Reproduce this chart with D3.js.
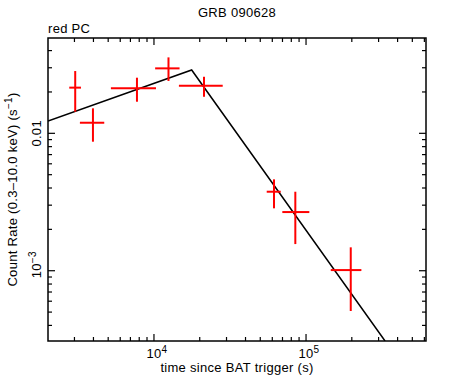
<!DOCTYPE html>
<html>
<head>
<meta charset="utf-8">
<script src="https://cdn.jsdelivr.net/npm/d3@7"></script>
<style>
  body { margin: 0; background: #fff; }
  text { font-family: "Liberation Sans", Arial, sans-serif; fill: #000; letter-spacing: 0.3px; }
</style>
</head>
<body>
<script>
// light curve bins: time (s), rate (s^-1) with errors
var times  = [3035, 3970, 7730, 12460, 21330, 61550, 85030, 196800];
var tLo    = [2773, 3258, 5210, 10180, 14590, 55130, 69830, 145400];
var tHi    = [3311, 4711, 10310, 14730, 28320, 68170, 105100, 231200];
var rates  = [0.0215, 0.01194, 0.02126, 0.0297, 0.0222, 0.003758, 0.002673, 0.001011];
var rLo    = [0.01435, 0.00869, 0.01698, 0.02405, 0.01845, 0.002845, 0.001563, 0.000509];
var rHi    = [0.0284, 0.0152, 0.0254, 0.0357, 0.0258, 0.004625, 0.003758, 0.00148];

// broken power law model
var modelT = [2010, 17700, 330800];
var modelR = [0.0123, 0.0289, 0.000308];

var xDomain = [2010, 615000];
var yDomain = [0.000308, 0.0494];
var xMajor = [1e4, 1e5];
var xMajorLabels = ["4", "5"];

var width = 474, height = 379,
    margin = {left: 48, right: 48, top: 38, bottom: 38},
    fs = 13;

var svg = d3.select("body").append("svg")
    .attr("width", width)
    .attr("height", height);

var x = d3.scaleLog().domain(xDomain).range([margin.left, width - margin.right]);
var y = d3.scaleLog().domain(yDomain).range([height - margin.bottom, margin.top]);

var x0 = x.range()[0], x1 = x.range()[1], y0 = y.range()[0], y1 = y.range()[1];

svg.append("clipPath").attr("id", "clip")
  .append("rect").attr("x", x0).attr("y", y1).attr("width", x1 - x0).attr("height", y0 - y1);

// minor/major tick values
function logTicks(domain) {
  var out = [];
  for (var e = -5; e <= 7; e++) {
    for (var m = 1; m < 10; m++) {
      var v = m * Math.pow(10, e);
      if (v >= domain[0] && v <= domain[1]) out.push({v: v, major: m === 1});
    }
  }
  return out;
}

var xt = logTicks(xDomain), yt = logTicks(yDomain);
var tickG = svg.append("g").attr("stroke", "#000").attr("stroke-width", 1.2);

xt.forEach(function(d) {
  var len = d.major ? 7 : 4;
  tickG.append("line").attr("x1", x(d.v)).attr("x2", x(d.v)).attr("y1", y0).attr("y2", y0 - len);
  tickG.append("line").attr("x1", x(d.v)).attr("x2", x(d.v)).attr("y1", y1).attr("y2", y1 + len);
});
yt.forEach(function(d) {
  var len = d.major ? 7 : 4;
  tickG.append("line").attr("y1", y(d.v)).attr("y2", y(d.v)).attr("x1", x0).attr("x2", x0 + len);
  tickG.append("line").attr("y1", y(d.v)).attr("y2", y(d.v)).attr("x1", x1).attr("x2", x1 - len);
});

// frame
svg.append("rect")
  .attr("x", x0).attr("y", y1).attr("width", x1 - x0).attr("height", y0 - y1)
  .attr("fill", "none").attr("stroke", "#000").attr("stroke-width", 1.5);

// x tick labels ("10" centred on the tick)
xMajor.forEach(function(v, i) {
  var t = svg.append("text").attr("x", x(v) - 7.5).attr("y", y0 + 17)
    .attr("font-size", fs);
  t.append("tspan").text("10");
  t.append("tspan").attr("dy", -5).attr("font-size", 10).text(xMajorLabels[i]);
});

// y tick labels (rotated)
svg.append("text")
  .attr("transform", "translate(" + (x0 - 7) + "," + y(0.01) + ") rotate(-90)")
  .attr("text-anchor", "middle").attr("font-size", fs).text("0.01");
var t3 = svg.append("text")
  .attr("transform", "translate(" + (x0 - 7) + "," + (y(0.001) + 7.5) + ") rotate(-90)")
  .attr("font-size", fs);
t3.append("tspan").text("10");
t3.append("tspan").attr("dy", -5).attr("font-size", 10).text("\u22123");

// titles
svg.append("text").attr("x", (x0 + x1) / 2).attr("y", 17)
  .attr("text-anchor", "middle").attr("font-size", fs).text("GRB 090628");
svg.append("text").attr("x", x0).attr("y", 33)
  .attr("font-size", fs).text("red PC");
svg.append("text").attr("x", (x0 + x1) / 2).attr("y", 372)
  .attr("text-anchor", "middle").attr("font-size", fs).text("time since BAT trigger (s)");
var yl = svg.append("text")
  .attr("transform", "translate(17," + ((y0 + y1) / 2) + ") rotate(-90)")
  .attr("text-anchor", "middle").attr("font-size", fs);
yl.append("tspan").text("Count Rate (0.3\u201310.0 keV) (s");
yl.append("tspan").attr("dy", -5).attr("font-size", 10).text("\u22121");
yl.append("tspan").attr("dy", 5).text(")");

// model
var line = d3.line().x(function(d) { return x(d[0]); }).y(function(d) { return y(d[1]); });
svg.append("path")
  .datum(d3.zip(modelT, modelR))
  .attr("d", line)
  .attr("clip-path", "url(#clip)")
  .attr("fill", "none").attr("stroke", "#000").attr("stroke-width", 1.5);

// data points
var pts = svg.append("g").attr("stroke", "#f00").attr("stroke-width", 2);
times.forEach(function(t, i) {
  pts.append("line").attr("x1", x(tLo[i])).attr("x2", x(tHi[i])).attr("y1", y(rates[i])).attr("y2", y(rates[i]));
  pts.append("line").attr("x1", x(t)).attr("x2", x(t)).attr("y1", y(rLo[i])).attr("y2", y(rHi[i]));
});
</script>
</body>
</html>
